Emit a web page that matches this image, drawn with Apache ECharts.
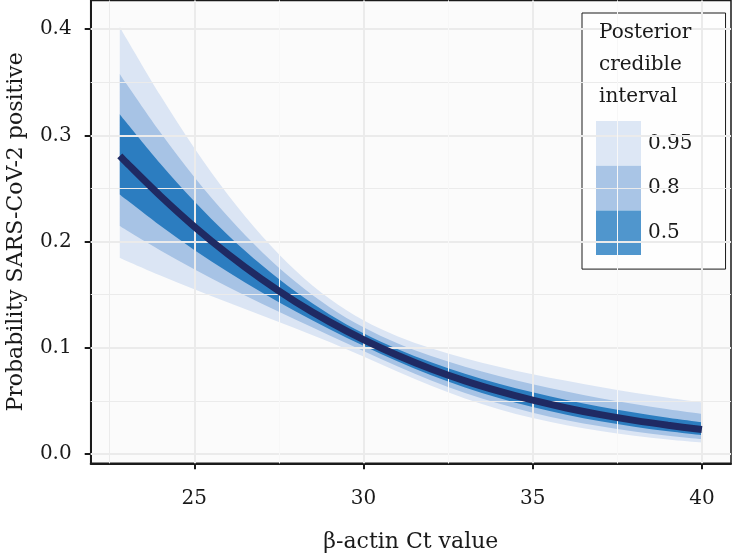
<!DOCTYPE html>
<html>
<head>
<meta charset="utf-8">
<script src="https://cdn.jsdelivr.net/npm/echarts@6/dist/echarts.min.js"></script>
<style>
  html, body { margin: 0; padding: 0; background: #ffffff; }
  #chart { width: 732px; height: 553px; }
</style>
</head>
<body>
<div id="chart"></div>
<script>
// ---- Data ----
const ctValues = [22.8, 23, 24, 25, 26, 27, 28, 29, 30, 31, 32, 33, 34, 35, 36, 37, 38, 39, 40];
const median = [0.2807, 0.2742, 0.2430, 0.2142, 0.1881, 0.1644, 0.1432, 0.1244, 0.1077, 0.0930, 0.0801, 0.0689, 0.0592, 0.0507, 0.0434, 0.0371, 0.0317, 0.0271, 0.0231];
const lo95 = [0.1845, 0.1818, 0.1681, 0.1551, 0.1426, 0.1304, 0.1182, 0.1055, 0.0918, 0.0777, 0.0642, 0.0523, 0.0422, 0.0339, 0.0271, 0.0216, 0.0172, 0.0137, 0.0108];
const hi95 = [0.4023, 0.3911, 0.3375, 0.2882, 0.2439, 0.2053, 0.1726, 0.1461, 0.1259, 0.1110, 0.0996, 0.0903, 0.0823, 0.0752, 0.0689, 0.0631, 0.0578, 0.0530, 0.0486];
const lo80 = [0.2146, 0.2107, 0.1917, 0.1739, 0.1572, 0.1414, 0.1264, 0.1117, 0.0971, 0.0827, 0.0693, 0.0576, 0.0475, 0.0390, 0.0319, 0.0261, 0.0213, 0.0173, 0.0141];
const hi80 = [0.3579, 0.3484, 0.3027, 0.2609, 0.2234, 0.1903, 0.1619, 0.1383, 0.1193, 0.1044, 0.0924, 0.0823, 0.0735, 0.0657, 0.0588, 0.0526, 0.0471, 0.0421, 0.0377];
const lo50 = [0.2444, 0.2393, 0.2149, 0.1922, 0.1713, 0.1520, 0.1342, 0.1176, 0.1020, 0.0874, 0.0743, 0.0627, 0.0527, 0.0442, 0.0369, 0.0308, 0.0257, 0.0214, 0.0178];
const hi50 = [0.3200, 0.3120, 0.2734, 0.2380, 0.2061, 0.1777, 0.1528, 0.1315, 0.1137, 0.0989, 0.0864, 0.0757, 0.0663, 0.0582, 0.0509, 0.0446, 0.0391, 0.0342, 0.0299];

const xTicks = [25, 30, 35, 40];
const yTicks = [0, 0.1, 0.2, 0.3, 0.4];
const xGridMajor = [25, 30, 35, 40];
const xGridMinor = [22.5, 27.5, 32.5, 37.5];
const yGridMajor = [0, 0.1, 0.2, 0.3, 0.4];
const yGridMinor = [0.05, 0.15, 0.25, 0.35];

const intervalNames = ['0.95', '0.8', '0.5'];
const legendTitle = 'Posterior\ncredible\ninterval';
const xTitle = 'β-actin Ct value';
const yTitle = 'Probability SARS-CoV-2 positive';

// ---- Styles ----
const FONT = 'DejaVu Serif';
const bandColors = { '0.95': '#dbe5f4', '0.8': '#a7c3e5', '0.5': '#2c7dc0' };
const legendColors = { '0.95': '#dde7f5', '0.8': '#a9c5e6', '0.5': '#5096cd' };
const lineColor = '#1f2a63';
const gridLineColor = '#ebebeb';
const ink = '#1a1a1a';

// Catmull-Rom spline through pixel points -> SVG path commands
function splinePath(pts, start) {
  let d = start ? ('M' + pts[0][0] + ' ' + pts[0][1]) : ('L' + pts[0][0] + ' ' + pts[0][1]);
  for (let i = 0; i < pts.length - 1; i++) {
    const p0 = pts[Math.max(i - 1, 0)], p1 = pts[i], p2 = pts[i + 1], p3 = pts[Math.min(i + 2, pts.length - 1)];
    const c1 = [p1[0] + (p2[0] - p0[0]) / 6, p1[1] + (p2[1] - p0[1]) / 6];
    const c2 = [p2[0] - (p3[0] - p1[0]) / 6, p2[1] - (p3[1] - p1[1]) / 6];
    d += ' C' + c1[0] + ' ' + c1[1] + ' ' + c2[0] + ' ' + c2[1] + ' ' + p2[0] + ' ' + p2[1];
  }
  return d;
}

function band(name, lo, hi) {
  return {
    type: 'custom', name: name, silent: true, z: 3,
    itemStyle: { color: legendColors[name] },
    data: [0],
    renderItem: function (params, api) {
      const upper = ctValues.map((x, i) => api.coord([x, hi[i]]));
      const lower = ctValues.map((x, i) => api.coord([x, lo[i]])).reverse();
      const d = splinePath(upper, true) + ' ' + splinePath(lower, false) + ' Z';
      return {
        type: 'path',
        shape: { pathData: d },
        style: { fill: bandColors[name], stroke: null }
      };
    }
  };
}

const gridSeries = {
  type: 'line', name: 'grid', data: [], silent: true, z: 1,
  markLine: {
    silent: true, symbol: 'none', animation: false, label: { show: false },
    data: [
      ...xGridMinor.map(v => ({ xAxis: v, lineStyle: { color: gridLineColor, width: 1, type: 'solid' } })),
      ...xGridMajor.map(v => ({ xAxis: v, lineStyle: { color: gridLineColor, width: 2, type: 'solid' } })),
      ...yGridMinor.map(v => ({ yAxis: v, lineStyle: { color: gridLineColor, width: 1, type: 'solid' } })),
      ...yGridMajor.map(v => ({ yAxis: v, lineStyle: { color: gridLineColor, width: 2, type: 'solid' } }))
    ]
  }
};

// faint seams visible through the ribbons at the minor x grid positions
const seamSeries = {
  type: 'line', name: 'seam', data: [], silent: true, z: 4,
  markLine: {
    silent: true, symbol: 'none', animation: false, label: { show: false },
    data: xGridMinor.slice(1).map(v => ({ xAxis: v, lineStyle: { color: 'rgba(255,255,255,0.6)', width: 1, type: 'solid' } }))
  }
};

const chart = echarts.init(document.getElementById('chart'), null, { renderer: 'canvas' });
chart.setOption({
  animation: false,
  backgroundColor: '#ffffff',
  textStyle: { fontFamily: FONT },
  grid: {
    left: 90.7, right: 1, top: 0.5, bottom: 89.7,
    containLabel: false, outerBoundsMode: 'none',
    show: true, backgroundColor: '#fbfbfb', borderColor: ink, borderWidth: 1.5
  },
  xAxis: {
    type: 'value', min: 21.94, max: 40.86,
    name: xTitle, nameLocation: 'middle', nameGap: 68,
    nameTextStyle: { fontFamily: FONT, fontSize: 22, color: ink },
    axisLine: { show: true, onZero: false, lineStyle: { color: ink, width: 2 } },
    axisTick: { show: true, length: 6, customValues: xTicks, lineStyle: { color: ink, width: 2 } },
    axisLabel: { customValues: xTicks, margin: 25, fontFamily: FONT, fontSize: 20, color: ink },
    splitLine: { show: false }
  },
  yAxis: {
    type: 'value', min: -0.0087, max: 0.427,
    name: yTitle, nameLocation: 'middle', nameGap: 63,
    nameTextStyle: { fontFamily: FONT, fontSize: 22, color: ink },
    axisLine: { show: true, onZero: false, lineStyle: { color: ink, width: 2 } },
    axisTick: { show: true, length: 6, customValues: yTicks, lineStyle: { color: ink, width: 2 } },
    axisLabel: { customValues: yTicks, margin: 19, fontFamily: FONT, fontSize: 20, color: ink,
      formatter: v => v.toFixed(1) },
    splitLine: { show: false }
  },
  legend: {
    show: true, orient: 'vertical', left: 582, top: 13,
    data: intervalNames.map(n => ({ name: n, icon: 'rect', itemStyle: { color: legendColors[n], borderWidth: 0 } })),
    selectedMode: false,
    itemWidth: 45, itemHeight: 44.7, itemGap: 0,
    padding: [108, 33, 14, 14],
    backgroundColor: '#fefefe', borderColor: ink, borderWidth: 1,
    textStyle: { fontFamily: FONT, fontSize: 20, color: ink, padding: [0, 0, 0, 2] }
  },
  graphic: [
    {
      type: 'text', left: 599, top: 17, z: 100,
      style: { text: legendTitle, font: '20px "DejaVu Serif"', fill: ink, lineHeight: 32 }
    }
  ],
  series: [
    gridSeries,
    band('0.95', lo95, hi95),
    band('0.8', lo80, hi80),
    band('0.5', lo50, hi50),
    seamSeries,
    {
      type: 'line', name: 'median', data: ctValues.map((x, i) => [x, median[i]]), smooth: 0.3,
      symbol: 'none', silent: true,
      lineStyle: { color: lineColor, width: 7, cap: 'butt' }, z: 5
    }
  ]
});
</script>
</body>
</html>
